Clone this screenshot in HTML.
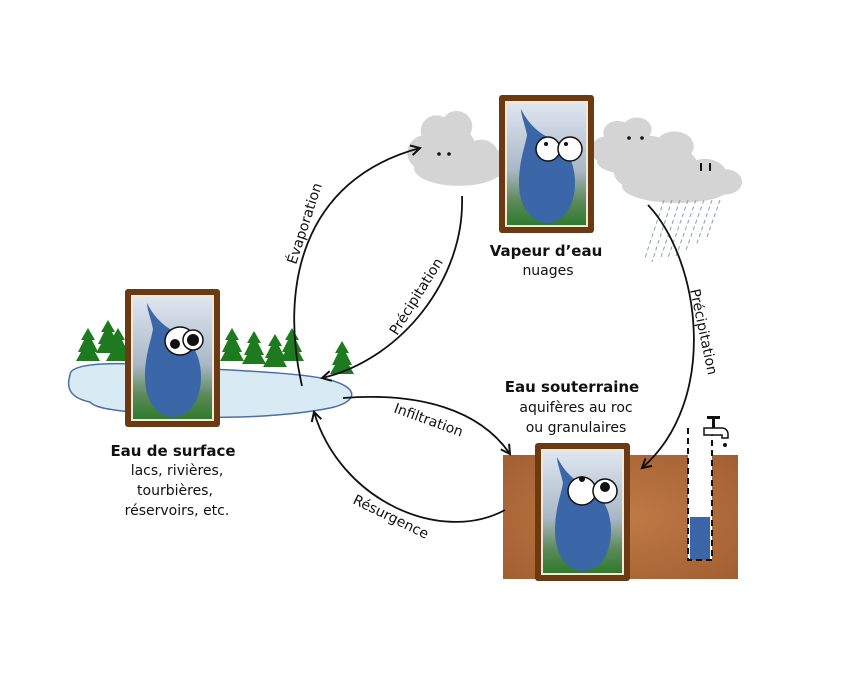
<!DOCTYPE html>
<html><head><meta charset="utf-8"><style>
html,body{margin:0;padding:0;background:#fff;}
svg{display:block;}
text{font-family:"Comic Sans MS","DejaVu Sans","Liberation Sans",sans-serif;fill:#111;}
</style></head><body>
<svg width="854" height="683" viewBox="0 0 854 683" xmlns="http://www.w3.org/2000/svg">
<defs>
<linearGradient id="bg" x1="0" y1="0" x2="0" y2="1">
<stop offset="0" stop-color="#dfe6f0"/><stop offset="0.55" stop-color="#a9b8c6"/><stop offset="0.8" stop-color="#5d8a5a"/><stop offset="1" stop-color="#2f7a2c"/></linearGradient>
<radialGradient id="soil" cx="0.5" cy="0.5" r="0.7"><stop offset="0" stop-color="#c17a48"/><stop offset="1" stop-color="#a25f30"/></radialGradient>
<marker id="ah" markerWidth="12" markerHeight="12" refX="10" refY="6" orient="auto" markerUnits="userSpaceOnUse"><path d="M1,1 L10,6 L1,11" fill="none" stroke="#111" stroke-width="2"/></marker>
<g id="frame">
<rect x="0" y="0" width="95" height="138" rx="3" fill="#6b3a12"/>
<rect x="6" y="6" width="83" height="126" fill="#f3e8d8"/>
<rect x="8" y="8" width="79" height="122" fill="url(#bg)"/>
<path d="M22,14 C30,30 40,38 52,44 C68,52 76,68 76,88 C76,112 64,128 48,128 C32,128 20,112 20,88 C20,66 26,52 28,40 C26,30 22,20 22,14 Z" fill="#3b67a8"/>
</g>
<g id="tree"><path d="M0,-24 L-7,-12 L-4,-12 L-10,0 L-7,0 L-12,9 L12,9 L7,0 L10,0 L4,-12 L7,-12 Z" fill="#1e7a1e"/></g>
<g id="cloud" fill="#d4d4d4">
<circle cx="20" cy="8" r="14"/><circle cx="38" cy="4" r="14"/><circle cx="10" cy="28" r="16"/><circle cx="35" cy="24" r="20"/><circle cx="60" cy="32" r="16"/><circle cx="75" cy="38" r="12"/><ellipse cx="40" cy="42" rx="40" ry="16"/></g>
</defs>

<use href="#tree" x="88" y="352"/><use href="#tree" x="108" y="344"/><use href="#tree" x="118" y="352"/>
<use href="#tree" x="232" y="352"/><use href="#tree" x="254" y="355"/><use href="#tree" x="275" y="358"/><use href="#tree" x="292" y="352"/><use href="#tree" x="342" y="365"/>
<path d="M70,375 C70,362 120,362 160,366 C220,370 300,372 330,380 C360,388 358,402 330,408 C280,418 200,420 150,414 C110,410 95,408 90,402 C70,398 66,388 70,375 Z" fill="#d8ebf5" stroke="#4a6fa5" stroke-width="1.5"/>
<use href="#frame" x="125" y="289"/>
<ellipse cx="180" cy="341" rx="15" ry="14" fill="#fff" stroke="#111" stroke-width="1.5"/><circle cx="175" cy="344" r="5" fill="#111"/>
<circle cx="193" cy="340" r="10" fill="#fff" stroke="#111" stroke-width="1.5"/><circle cx="193" cy="340" r="6" fill="#111"/>

<use href="#cloud" transform="translate(414,122) scale(1.12,1.1)"/>
<circle cx="439" cy="154" r="1.8" fill="#111"/><circle cx="449" cy="154" r="1.8" fill="#111"/>
<use href="#cloud" transform="translate(597,126) scale(1.05,0.85)"/>
<use href="#cloud" transform="translate(622,142) scale(1.38,1.05)"/>
<circle cx="629" cy="138" r="1.8" fill="#111"/><circle cx="642" cy="138" r="1.8" fill="#111"/>
<rect x="700" y="163" width="2" height="8" fill="#111"/><rect x="709" y="163" width="2" height="8" fill="#111"/>
<g stroke="#8aa0b0" stroke-width="1" stroke-dasharray="4,3">
<line x1="664" y1="200" x2="645" y2="258"/><line x1="672" y1="200" x2="652" y2="262"/><line x1="680" y1="200" x2="660" y2="260"/><line x1="688" y1="200" x2="668" y2="258"/><line x1="696" y1="200" x2="676" y2="256"/><line x1="704" y1="200" x2="686" y2="250"/><line x1="712" y1="200" x2="696" y2="246"/><line x1="720" y1="200" x2="706" y2="240"/></g>
<use href="#frame" x="499" y="95"/>
<circle cx="548" cy="149" r="12" fill="#fff" stroke="#111" stroke-width="1.5"/><circle cx="546" cy="144" r="2" fill="#111"/>
<circle cx="570" cy="149" r="12" fill="#fff" stroke="#111" stroke-width="1.5"/><circle cx="566" cy="144" r="2" fill="#111"/>

<rect x="503" y="455" width="235" height="124" fill="url(#soil)"/>
<use href="#frame" x="535" y="443"/>
<circle cx="582" cy="491" r="14" fill="#fff" stroke="#111" stroke-width="1.5"/><circle cx="582" cy="479" r="3" fill="#111"/>
<circle cx="605" cy="491" r="12" fill="#fff" stroke="#111" stroke-width="1.5"/><circle cx="605" cy="487" r="5" fill="#111"/>
<rect x="688" y="425" width="24" height="135" fill="#fff"/>
<rect x="690" y="517" width="20" height="43" fill="#3b67a8"/>
<path d="M688,428 V560 H712 V428" fill="none" stroke="#111" stroke-width="2" stroke-dasharray="6,4"/>
<path d="M704,428 h18 a6,6 0 0 1 6,6 v4 h-6 v-3 h-18 z" fill="#fff" stroke="#111" stroke-width="1.5"/>
<rect x="712" y="418" width="3" height="10" fill="#111"/><rect x="707" y="416" width="13" height="3" fill="#111"/>
<circle cx="725" cy="445" r="2" fill="#111"/>

<g fill="none" stroke="#111" stroke-width="1.8" marker-end="url(#ah)">
<path d="M302,386 C280,290 300,180 420,148"/>
<path d="M462,196 C465,280 400,360 322,378"/>
<path d="M648,205 C700,260 720,400 642,468"/>
<path d="M343,398 C420,392 480,410 510,454"/>
<path d="M505,510 C440,545 340,500 314,412"/>
</g>

<text transform="translate(296,265) rotate(-72)" font-size="14">Évaporation</text>
<text transform="translate(397,336) rotate(-58)" font-size="14">Précipitation</text>
<text transform="translate(690,290) rotate(78)" font-size="14">Précipitation</text>
<text transform="translate(393,412) rotate(20)" font-size="14">Infiltration</text>
<text transform="translate(352,503) rotate(26)" font-size="14">Résurgence</text>

<text x="546" y="256" font-size="15" font-weight="bold" text-anchor="middle">Vapeur d’eau</text>
<text x="548" y="275" font-size="14" text-anchor="middle">nuages</text>
<text x="572" y="392" font-size="15" font-weight="bold" text-anchor="middle">Eau souterraine</text>
<text x="576" y="412" font-size="14" text-anchor="middle">aquifères au roc</text>
<text x="576" y="432" font-size="14" text-anchor="middle">ou granulaires</text>
<text x="173" y="456" font-size="15" font-weight="bold" text-anchor="middle">Eau de surface</text>
<text x="177" y="475" font-size="14" text-anchor="middle">lacs, rivières,</text>
<text x="175" y="495" font-size="14" text-anchor="middle">tourbières,</text>
<text x="177" y="515" font-size="14" text-anchor="middle">réservoirs, etc.</text>
</svg>
</body></html>
